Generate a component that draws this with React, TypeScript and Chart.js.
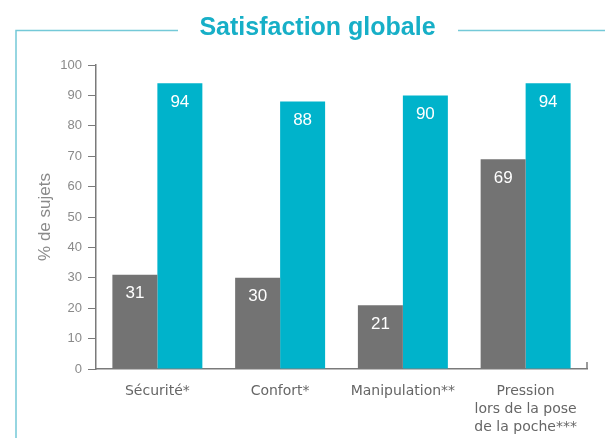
import React, { useEffect, useRef } from "react";
import { Chart, registerables } from "chart.js";

Chart.register(...registerables);

const TITLE = "Satisfaction globale";
const Y_TITLE = "% de sujets";
const categories: string[][] = [
  ["Sécurité*"],
  ["Confort*"],
  ["Manipulation**"],
  ["Pression", "lors de la pose", "de la poche***"],
];
const seriesGray = [31, 30, 21, 69];
const seriesTeal = [94, 88, 90, 94];
const Y_MIN = 0;
const Y_MAX = 100;
const Y_STEP = 10;

const GRAY = "#737373";
const TEAL = "#00b3cb";
const TITLE_COLOR = "#17afc7";
const FRAME_COLOR = "#74c9d8";
const AXIS_COLOR = "#7a7a7a";

const framePlugin = {
  id: "frameAndTitle",
  beforeDraw(chart: any) {
    const ctx = chart.ctx as CanvasRenderingContext2D;
    ctx.save();
    ctx.fillStyle = "#ffffff";
    ctx.fillRect(0, 0, chart.width, chart.height);
    ctx.strokeStyle = FRAME_COLOR;
    ctx.lineWidth = 1.5;
    ctx.beginPath();
    ctx.moveTo(16, chart.height);
    ctx.lineTo(16, 30.5);
    ctx.lineTo(178, 30.5);
    ctx.moveTo(458, 30.5);
    ctx.lineTo(chart.width, 30.5);
    ctx.stroke();
    ctx.fillStyle = TITLE_COLOR;
    ctx.font = "bold 25px 'Liberation Sans', Arial, sans-serif";
    ctx.textAlign = "center";
    ctx.textBaseline = "alphabetic";
    ctx.fillText(TITLE, 317.5, 35);
    ctx.restore();
  },
  afterDraw(chart: any) {
    const ctx = chart.ctx as CanvasRenderingContext2D;
    const { right, bottom } = chart.chartArea;
    ctx.save();
    ctx.strokeStyle = AXIS_COLOR;
    ctx.lineWidth = 1.5;
    ctx.beginPath();
    ctx.moveTo(right, bottom);
    ctx.lineTo(right, bottom - 7);
    ctx.stroke();
    // value labels
    ctx.fillStyle = "#ffffff";
    ctx.font = "17px 'Liberation Sans', Arial, sans-serif";
    ctx.textAlign = "center";
    ctx.textBaseline = "middle";
    chart.data.datasets.forEach((ds: any, di: number) => {
      const meta = chart.getDatasetMeta(di);
      meta.data.forEach((bar: any, i: number) => {
        ctx.fillText(String(ds.data[i]), bar.x, bar.y + 19);
      });
    });
    ctx.restore();
  },
};

export default function App() {
  const ref = useRef<HTMLCanvasElement | null>(null);
  useEffect(() => {
    if (!ref.current) return;
    const chart = new Chart(ref.current, {
      type: "bar",
      data: {
        labels: categories,
        datasets: [
          { label: "A", data: seriesGray, backgroundColor: GRAY, borderWidth: 0 },
          { label: "B", data: seriesTeal, backgroundColor: TEAL, borderWidth: 0 },
        ],
      },
      options: {
        animation: false,
        responsive: false,
        layout: { padding: { top: 65, right: 18, left: 0, bottom: 0 } },
        plugins: {
          legend: { display: false },
          tooltip: { enabled: false },
          title: { display: false },
        },
        datasets: {
          bar: { categoryPercentage: 0.733, barPercentage: 1 },
        },
        scales: {
          x: {
            grid: { display: false, drawTicks: false },
            border: { display: true, color: AXIS_COLOR, width: 1.5 },
            ticks: {
              color: "#666666",
              padding: 13,
              maxRotation: 0,
              autoSkip: false,
              font: { family: "'DejaVu Sans', sans-serif", size: 14, lineHeight: 1.3 },
            },
            afterFit(scale: any) {
              scale.height = 69;
            },
          },
          y: {
            min: Y_MIN,
            max: Y_MAX,
            ticks: {
              stepSize: Y_STEP,
              color: "#8a8a8a",
              padding: 6,
              font: { family: "'Liberation Sans', Arial, sans-serif", size: 13 },
            },
            grid: {
              drawOnChartArea: false,
              drawTicks: true,
              tickLength: 8,
              color: AXIS_COLOR,
              lineWidth: 1,
            },
            border: { display: true, color: AXIS_COLOR, width: 1.5 },
            title: {
              display: true,
              text: Y_TITLE,
              color: "#8a8a8a",
              padding: { top: 35, bottom: 0 },
              font: { family: "'Liberation Sans', Arial, sans-serif", size: 17 },
            },
            afterFit(scale: any) {
              scale.width = 96;
            },
          },
        },
      },
      plugins: [framePlugin],
    });
    return () => chart.destroy();
  }, []);
  return (
    <div style={{ position: "absolute", left: 0, top: 0, width: 605, height: 438, background: "#fff" }}>
      <canvas ref={ref} width={605} height={438} style={{ display: "block" }} />
    </div>
  );
}
